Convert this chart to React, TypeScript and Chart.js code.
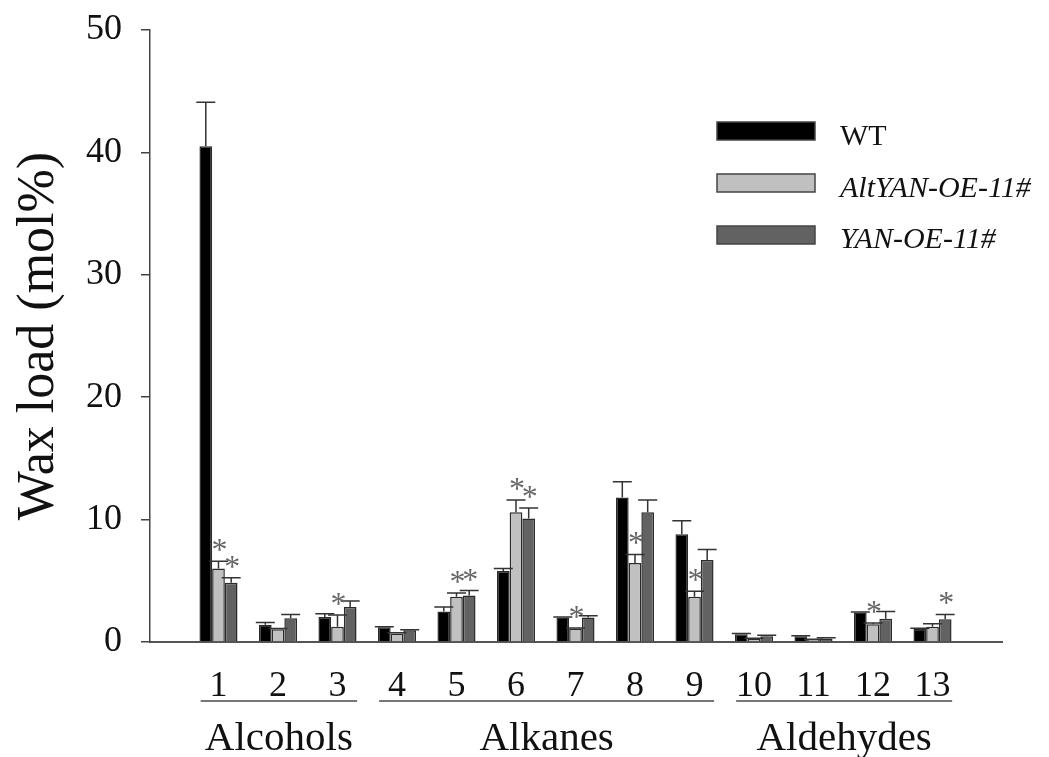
import React, { useEffect, useRef } from "react";
import { Chart, registerables } from "chart.js";

Chart.register(...registerables);

const categories = ["1", "2", "3", "4", "5", "6", "7", "8", "9", "10", "11", "12", "13"];
const seriesNames = ["WT", "AltYAN-OE-11#", "YAN-OE-11#"];

const wtValues = [40.5, 1.4, 2.05, 1.2, 2.5, 5.8, 2.0, 11.8, 8.8, 0.63, 0.47, 2.4, 1.08];
const wtErrors = [3.6, 0.2, 0.25, 0.05, 0.35, 0.2, 0.05, 1.3, 1.1, 0.07, 0.05, 0.05, 0.04];
const altValues = [6.0, 1.05, 1.25, 0.7, 3.7, 10.6, 1.1, 6.45, 3.7, 0.27, 0.2, 1.45, 1.25];
const altErrors = [0.6, 0.05, 0.95, 0.05, 0.3, 1.0, 0.05, 0.7, 0.45, 0.03, 0.02, 0.1, 0.25];
const yanValues = [4.85, 1.95, 2.85, 0.95, 3.8, 10.1, 2.0, 10.6, 6.7, 0.47, 0.28, 1.9, 1.85];
const yanErrors = [0.4, 0.3, 0.5, 0.05, 0.4, 0.85, 0.15, 1.0, 0.85, 0.08, 0.07, 0.6, 0.4];

// significance marks: [category number, series index]
const significance: [number, number][] = [
  [1, 1], [1, 2], [3, 1], [5, 1], [5, 2], [6, 1], [6, 2], [7, 1], [8, 1], [9, 1], [12, 1], [13, 2],
];

const groupNames = ["Alcohols", "Alkanes", "Aldehydes"];
const groupFrom = [1, 4, 10];
const groupTo = [3, 9, 13];

const yTicks = [0, 10, 20, 30, 40, 50];

const FONT = "'Liberation Serif', 'Times New Roman', serif";
const fillColors = ["#000000", "#c0c0c0", "#626262"];
const BORDER = "#2a2a2a";

const valuesList = [wtValues, altValues, yanValues];
const errorsList = [wtErrors, altErrors, yanErrors];

const decorPlugin = {
  id: "decor",
  afterDatasetsDraw(chart: any) {
    const ctx = chart.ctx;
    const ys = chart.scales.y;
    ctx.save();
    ctx.strokeStyle = "#333";
    ctx.lineWidth = 1.5;
    chart.data.datasets.forEach((_: any, di: number) => {
      const meta = chart.getDatasetMeta(di);
      meta.data.forEach((bar: any, i: number) => {
        const v = valuesList[di][i];
        const e = errorsList[di][i];
        const base = ys.getPixelForValue(v);
        const top = ys.getPixelForValue(v + e);
        ctx.beginPath();
        ctx.moveTo(bar.x, base);
        ctx.lineTo(bar.x, top);
        ctx.moveTo(bar.x - 9.5, top);
        ctx.lineTo(bar.x + 9.5, top);
        ctx.stroke();
      });
    });
    // asterisks
    ctx.fillStyle = "#666";
    ctx.font = `32px ${FONT}`;
    ctx.textAlign = "center";
    ctx.textBaseline = "alphabetic";
    significance.forEach(([cat, si]) => {
      const meta = chart.getDatasetMeta(si);
      const bar = meta.data[cat - 1];
      const i = cat - 1;
      const top = ys.getPixelForValue(valuesList[si][i] + errorsList[si][i]);
      ctx.fillText("*", bar.x + 1, top - 1);
    });
    ctx.restore();
  },
  afterDraw(chart: any) {
    const ctx = chart.ctx;
    const xs = chart.scales.x;
    const area = chart.chartArea;
    ctx.save();
    // y title
    ctx.fillStyle = "#111";
    ctx.font = `52px ${FONT}`;
    ctx.textAlign = "center";
    ctx.textBaseline = "alphabetic";
    ctx.translate(53, (area.top + area.bottom) / 2);
    ctx.rotate(-Math.PI / 2);
    ctx.fillText("Wax load (mol%)", 0, 0);
    ctx.restore();

    // group lines + labels
    ctx.save();
    ctx.strokeStyle = "#777";
    ctx.lineWidth = 2;
    ctx.fillStyle = "#111";
    ctx.font = `41px ${FONT}`;
    ctx.textAlign = "center";
    ctx.textBaseline = "alphabetic";
    groupNames.forEach((name, g) => {
      const x1 = xs.getPixelForValue(groupFrom[g] - 0.3);
      const x2 = xs.getPixelForValue(groupTo[g] + 0.33);
      ctx.beginPath();
      ctx.moveTo(x1, 701);
      ctx.lineTo(x2, 701);
      ctx.stroke();
      ctx.fillText(name, (x1 + x2) / 2, 750);
    });
    ctx.restore();

    // legend
    ctx.save();
    const boxTops = [122, 174, 226];
    const baselines = [145, 197, 248];
    seriesNames.forEach((name, i) => {
      ctx.fillStyle = fillColors[i];
      ctx.fillRect(717, boxTops[i], 98, 18);
      ctx.strokeStyle = "#444";
      ctx.lineWidth = 1.5;
      ctx.strokeRect(717, boxTops[i], 98, 18);
      ctx.fillStyle = "#111";
      ctx.font = `${i === 0 ? "" : "italic "}30px ${FONT}`;
      ctx.textAlign = "left";
      ctx.textBaseline = "alphabetic";
      ctx.fillText(name, 840, baselines[i]);
    });
    ctx.restore();
  },
};

export default function App() {
  const ref = useRef<HTMLCanvasElement | null>(null);
  useEffect(() => {
    document.body.style.margin = "0";
    const canvas = ref.current;
    if (!canvas) return;
    const chart = new Chart(canvas, {
      type: "bar",
      data: {
        datasets: seriesNames.map((name, di) => ({
          label: name,
          data: valuesList[di].map((v, i) => ({ x: i + 1, y: v })),
          backgroundColor: fillColors[di],
          borderColor: BORDER,
          borderWidth: 1.5,
          categoryPercentage: 0.64,
          barPercentage: 1.0,
        })),
      },
      options: {
        responsive: false,
        animation: false,
        devicePixelRatio: 1,
        layout: { padding: { top: 30, right: 47, left: 0, bottom: 0 } },
        plugins: {
          legend: { display: false },
          tooltip: { enabled: false },
        },
        scales: {
          x: {
            type: "linear",
            offset: false,
            min: -0.151,
            max: 14.168,
            afterBuildTicks: (scale: any) => {
              scale.ticks = categories.map((_, i) => ({ value: i + 1 }));
            },
            afterFit: (scale: any) => {
              scale.height = 115;
              scale.paddingLeft = 0;
              scale.paddingRight = 0;
            },
            grid: { display: false, offset: false },
            border: { display: true, color: "#555", width: 2 },
            ticks: {
              autoSkip: false,
              maxRotation: 0,
              padding: 15,
              color: "#111",
              font: { family: FONT, size: 36 },
              callback: (v: any) => categories[Number(v) - 1] ?? "",
            },
          },
          y: {
            min: 0,
            max: 50,
            afterBuildTicks: (scale: any) => {
              scale.ticks = yTicks.map((v) => ({ value: v }));
            },
            afterFit: (scale: any) => {
              scale.width = 150;
              scale.paddingTop = 0;
              scale.paddingBottom = 0;
            },
            grid: {
              display: true,
              drawOnChartArea: false,
              drawTicks: true,
              tickLength: 9,
              color: "#444",
              lineWidth: 1.5,
            },
            border: { display: true, color: "#444", width: 1.5 },
            ticks: {
              padding: 19,
              color: "#111",
              font: { family: FONT, size: 36 },
            },
          },
        },
      },
      plugins: [decorPlugin],
    } as any);
    return () => chart.destroy();
  }, []);
  return <canvas ref={ref} width={1049} height={757} style={{ display: "block" }} />;
}
